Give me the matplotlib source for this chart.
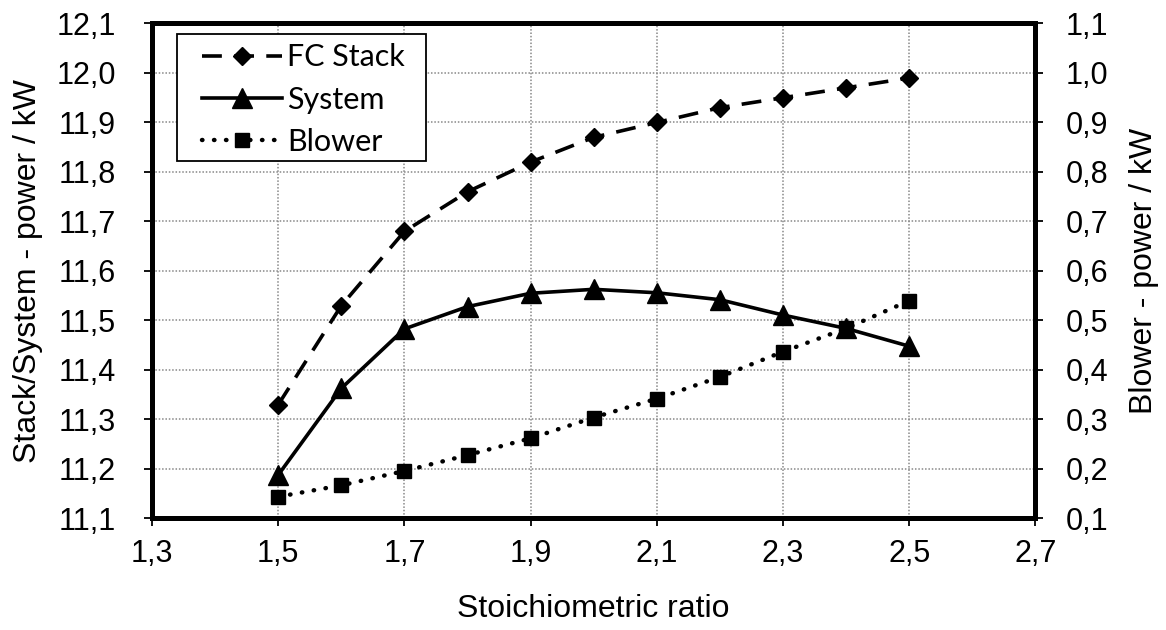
import matplotlib.pyplot as plt
from matplotlib.patches import Rectangle
from matplotlib.ticker import FixedLocator, FuncFormatter

# Data
ratio = [1.5, 1.6, 1.7, 1.8, 1.9, 2.0, 2.1, 2.2, 2.3, 2.4, 2.5]
fc_stack = [11.33, 11.53, 11.68, 11.76, 11.82, 11.87, 11.90, 11.93, 11.95, 11.97, 11.99]
system = [11.188, 11.363, 11.483, 11.528, 11.555, 11.563, 11.556, 11.542, 11.511, 11.484, 11.448]
blower = [0.144, 0.167, 0.196, 0.228, 0.262, 0.304, 0.342, 0.386, 0.437, 0.484, 0.540]

x_ticks = [1.3, 1.5, 1.7, 1.9, 2.1, 2.3, 2.5, 2.7]
left_ticks = [11.1, 11.2, 11.3, 11.4, 11.5, 11.6, 11.7, 11.8, 11.9, 12.0, 12.1]
right_ticks = [0.1, 0.2, 0.3, 0.4, 0.5, 0.6, 0.7, 0.8, 0.9, 1.0, 1.1]

plt.rcParams["font.family"] = ["Liberation Sans", "DejaVu Sans"]


def comma(v, pos):
    return f"{v:.1f}".replace(".", ",")


fig = plt.figure(figsize=(11.66, 6.3), dpi=100)
ax = fig.add_axes([0.1304, 0.177, 0.7576, 0.7857])
ax2 = ax.twinx()

l1, = ax.plot(ratio, fc_stack, color="black", linestyle=(0, (5.5, 3.4)), linewidth=2.6,
              marker="D", markersize=9.5, label="FC Stack")
l2, = ax.plot(ratio, system, color="black", linestyle="-", linewidth=2.6,
              marker="^", markersize=14, label="System")
l3, = ax2.plot(ratio, blower, color="black", linestyle=(0, (0.1, 2.6)), linewidth=3.2,
               dash_capstyle="round", marker="s", markersize=10.5, label="Blower")

ax.set_xlim(1.3, 2.7)
ax.set_ylim(11.1, 12.1)
ax2.set_ylim(0.1, 1.1)
ax.xaxis.set_major_locator(FixedLocator(x_ticks))
ax.yaxis.set_major_locator(FixedLocator(left_ticks))
ax2.yaxis.set_major_locator(FixedLocator(right_ticks))
ax.xaxis.set_major_formatter(FuncFormatter(comma))
ax.yaxis.set_major_formatter(FuncFormatter(comma))
ax2.yaxis.set_major_formatter(FuncFormatter(comma))

ax.grid(True, color="#888888", linestyle=(0, (1, 1.2)), linewidth=1.1)
ax.set_axisbelow(True)

for a in (ax, ax2):
    for s in a.spines.values():
        s.set_linewidth(3.6)
    a.tick_params(direction="out", length=6, width=1.3, labelsize=22)
ax.tick_params(axis="x", pad=9)
ax.tick_params(axis="y", pad=20)
ax2.tick_params(axis="y", pad=16)

ax.set_xlabel("Stoichiometric ratio", fontsize=23, labelpad=18)
ax.set_ylabel("Stack/System - power / kW", fontsize=23, labelpad=10)
ax2.set_ylabel("Blower - power / kW", fontsize=23, labelpad=15)

# legend box (Excel style: wide side padding, tight top/bottom)
ax2.add_patch(Rectangle((0.0284, 0.7222), 0.2815, 0.2566, transform=ax.transAxes,
                        facecolor="white", edgecolor="black", linewidth=1.3, zorder=4))
leg = ax2.legend(handles=[l1, l2, l3], loc="upper left", bbox_to_anchor=(0.0568, 0.960),
                 frameon=False, prop={"family": ["Lato", "DejaVu Sans"], "size": 22},
                 handlelength=2.6, handletextpad=0.18, borderpad=0,
                 labelspacing=0.47, borderaxespad=0)
leg.set_zorder(5)

fig.savefig("out.png", dpi=100)
